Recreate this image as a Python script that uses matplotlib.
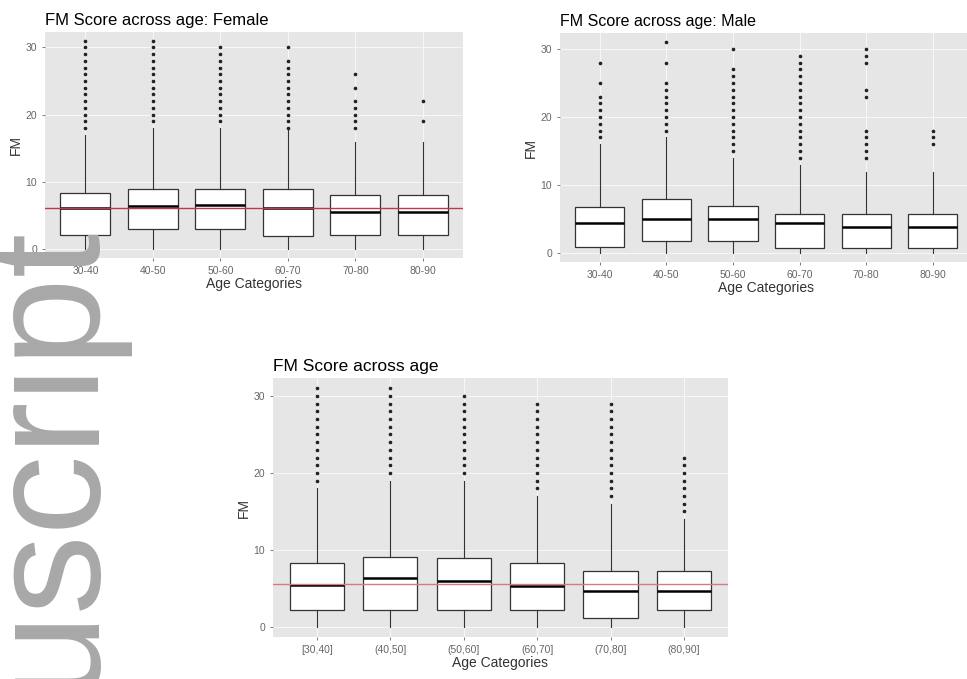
import matplotlib
matplotlib.use('Agg')
import matplotlib.pyplot as plt

plt.rcParams['font.family'] = ['Liberation Sans', 'DejaVu Sans']

# female panel
female_cats = ["30-40", "40-50", "50-60", "60-70", "70-80", "80-90"]
female_q1 = [2.1, 3.0, 3.0, 2.0, 2.1, 2.1]
female_med = [6.1, 6.5, 6.6, 6.2, 5.5, 5.5]
female_q3 = [8.4, 9.0, 8.9, 8.9, 8.1, 8.1]
female_lo = [0, 0, 0, 0, 0, 0]
female_hi = [17, 18, 18, 18, 16, 16]
female_out = [
    list(range(18, 32)),
    list(range(19, 32)),
    list(range(19, 31)),
    list(range(18, 29)) + [30],
    [18, 19, 20, 21, 22, 24, 26],
    [19, 22],
]
female_mean = 6.2

# male panel
male_cats = ["30-40", "40-50", "50-60", "60-70", "70-80", "80-90"]
male_q1 = [0.9, 1.75, 1.75, 0.75, 0.75, 0.75]
male_med = [4.4, 5.1, 5.1, 4.4, 3.9, 3.9]
male_q3 = [6.75, 7.9, 7.0, 5.75, 5.75, 5.75]
male_lo = [0, 0, 0, 0, 0, 0]
male_hi = [16, 17, 14, 13, 12, 12]
male_out = [
    [17, 18, 19, 20, 21, 22, 23, 25, 28],
    [18, 19, 20, 21, 22, 23, 24, 25, 28, 31],
    list(range(15, 28)) + [30],
    list(range(14, 30)),
    [14, 15, 16, 17, 18, 23, 24, 28, 29, 30],
    [16, 17, 18],
]

# all
all_cats = ["[30,40]", "(40,50]", "(50,60]", "(60,70]", "(70,80]", "(80,90]"]
all_q1 = [2.2, 2.2, 2.2, 2.2, 1.1, 2.2]
all_med = [5.4, 6.3, 6.0, 5.3, 4.7, 4.7]
all_q3 = [8.25, 9.1, 9.0, 8.25, 7.2, 7.2]
all_lo = [0, 0, 0, 0, 0, 0]
all_hi = [18, 19, 19, 17, 16, 14]
all_out = [
    list(range(19, 32)),
    list(range(20, 32)),
    list(range(20, 31)),
    list(range(18, 30)),
    list(range(17, 30)),
    list(range(15, 23)),
]
all_mean = 5.6


def draw_panel(ax, cats, q1, med, q3, lo, hi, out, mean=None, mean_color='#c0485a'):
    stats = []
    for i in range(len(cats)):
        stats.append(dict(q1=q1[i], med=med[i], q3=q3[i], whislo=lo[i],
                          whishi=hi[i], fliers=out[i], label=cats[i]))
    ax.set_facecolor('#e6e6e6')
    ax.grid(True, color='#f7f7f7', lw=0.8, axis='both')
    ax.set_axisbelow(True)
    ax.bxp(stats, positions=range(1, len(cats) + 1), widths=0.74,
           patch_artist=True,
           boxprops=dict(facecolor='white', edgecolor='#333333', lw=0.9),
           medianprops=dict(color='black', lw=1.8),
           whiskerprops=dict(color='#333333', lw=0.8),
           capprops=dict(lw=0),
           flierprops=dict(marker='o', markersize=1.6, markerfacecolor='#222222',
                           markeredgecolor='#222222'))
    if mean is not None:
        ax.axhline(mean, color=mean_color, lw=1.0, zorder=5)
    ax.set_xlim(0.4, len(cats) + 0.6)
    ax.set_ylim(-1.3, 32.3)
    ax.set_yticks([0, 10, 20, 30])
    for s in ax.spines.values():
        s.set_visible(False)
    ax.tick_params(labelsize=7.5, colors='#666666', length=2, width=0.6)
    ax.set_xlabel('Age Categories', fontsize=10, color='#333333', labelpad=1)
    ax.set_ylabel('FM', fontsize=10, color='#333333', labelpad=2)


fig = plt.figure(figsize=(9.67, 6.79), dpi=100)

ax1 = fig.add_axes([0.0465, 0.620, 0.4325, 0.333])
draw_panel(ax1, female_cats, female_q1, female_med, female_q3, female_lo,
           female_hi, female_out, female_mean, mean_color='#b83a4e')
ax1.set_title('FM Score across age: Female', loc='left', fontsize=12, pad=5)

ax2 = fig.add_axes([0.579, 0.614, 0.427, 0.337])
draw_panel(ax2, male_cats, male_q1, male_med, male_q3, male_lo,
           male_hi, male_out)
ax2.set_title('FM Score across age: Male', loc='left', fontsize=11.5, pad=5)

ax3 = fig.add_axes([0.282, 0.062, 0.471, 0.381])
draw_panel(ax3, all_cats, all_q1, all_med, all_q3, all_lo,
           all_hi, all_out, all_mean, mean_color='#d27a88')
ax3.set_title('FM Score across age', loc='left', fontsize=12.5, pad=5)

# watermark from the manuscript page
fig.text(90 / 967, 1 - 222 / 679, 'uscript', rotation=90, rotation_mode='anchor',
         ha='right', va='baseline', fontsize=115, color='#a8a8a8',
         family='Liberation Sans', zorder=10)

fig.savefig('out.png', dpi=100)
